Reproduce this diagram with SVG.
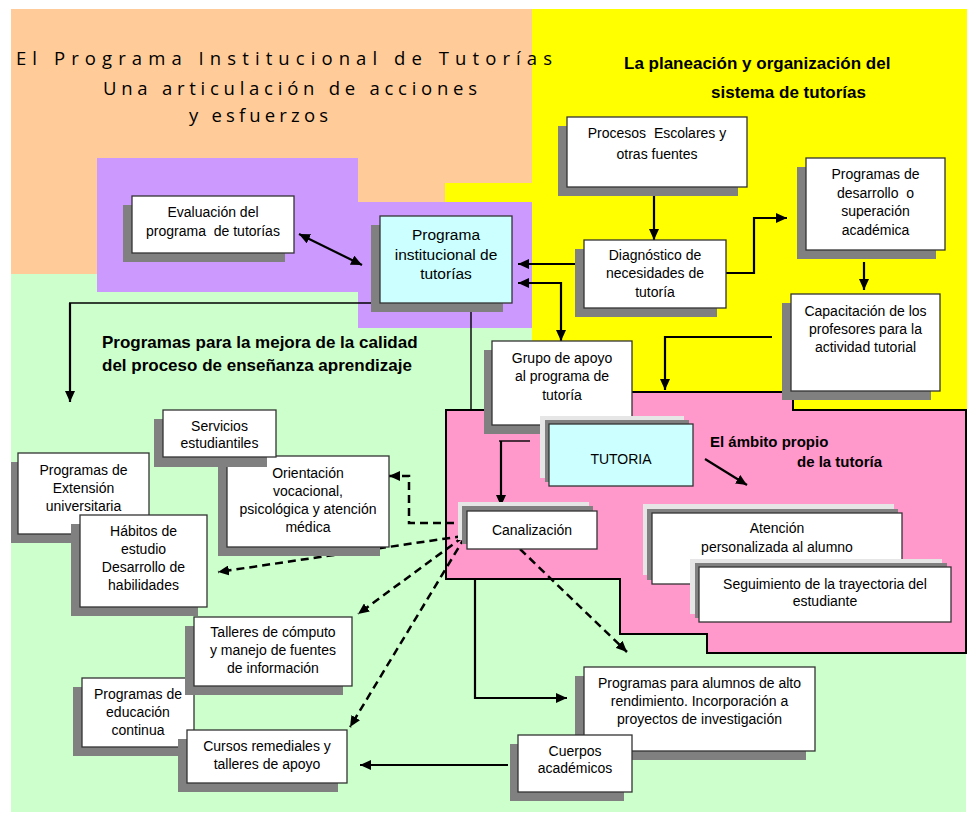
<svg xmlns="http://www.w3.org/2000/svg" width="967" height="813" viewBox="0 0 967 813">
<style>
.sh{fill:#808080}
.lg{fill:#E6E6E6}
.bx{fill:#FFFFFF;stroke:#333;stroke-width:1.3}
.cy{fill:#CCFFFF;stroke:#333;stroke-width:1.3}
.t{font-family:"Liberation Sans",Arial,sans-serif;font-size:14px;text-anchor:middle;fill:#000}
.big{font-size:15.5px}
.tb{font-family:"Liberation Sans",Arial,sans-serif;font-weight:bold;fill:#000}
.h17{font-size:17px}
.h15{font-size:15px}
.ti{font-family:"Open Sans","Liberation Sans",sans-serif;font-size:18.5px;fill:#000}
.ln{fill:none;stroke:#000;stroke-width:2.2}
.thin{fill:none;stroke:#000;stroke-width:1.4}
.ds{fill:none;stroke:#000;stroke-width:2.5;stroke-dasharray:8 5}
</style>
<defs>
<marker id="ar" markerWidth="11" markerHeight="10" refX="11" refY="5" orient="auto-start-reverse" markerUnits="userSpaceOnUse">
<path d="M0,0 L11,5 L0,10 z" fill="#000"/>
</marker>
</defs>

<g id="backgrounds">
<rect x="11" y="274" width="955" height="538" fill="#CCFFCC"/>
<rect x="11" y="9" width="521" height="265" fill="#FFCC99"/>
<rect x="532" y="9" width="435" height="402" fill="#FFFF00"/>
<rect x="445" y="183" width="87" height="19" fill="#FFFF00"/>
<polygon points="97,158 358,158 358,202 532,202 532,328 358,328 358,292 97,292" fill="#CC99FF"/>
<polygon points="446,410 560,410 560,392 793,392 793,410 966,410 966,653 707,653 707,634 620,634 620,579 446,579" fill="#FF99CC" stroke="#000" stroke-width="2"/>
</g>

<g id="titles">
<text class="ti" x="16" y="65" textLength="536" lengthAdjust="spacing">El Programa Institucional de Tutorías</text>
<text class="ti" x="103" y="95" textLength="374" lengthAdjust="spacing">Una articulación de acciones</text>
<text class="ti" x="189" y="122" textLength="139" lengthAdjust="spacing">y esfuerzos</text>
<text class="tb h17" x="624" y="69">La planeación y organización del</text>
<text class="tb h17" x="711" y="98">sistema de tutorías</text>
<text class="tb h17" x="102" y="348">Programas para la mejora de la calidad</text>
<text class="tb h17" x="102" y="371">del proceso de enseñanza aprendizaje</text>
<text class="tb h15" x="710" y="447">El ámbito propio</text>
<text class="tb h15" x="797" y="467">de la tutoría</text>
</g>

<g id="connectors">
<path class="ln" d="M299,234 L362,265" marker-start="url(#ar)" marker-end="url(#ar)"/>
<path class="ln" d="M583,264 H518" marker-end="url(#ar)"/>
<path class="ln" d="M518,283 H561 V341" marker-start="url(#ar)" marker-end="url(#ar)"/>
<path class="ln" d="M654,196 V240" marker-end="url(#ar)"/>
<path class="ln" d="M726,273 H754 V218 H787" marker-end="url(#ar)"/>
<path class="ln" d="M864,262 V290" marker-end="url(#ar)"/>
<path class="ln" d="M772,337 H665 V390" marker-end="url(#ar)"/>
<path class="thin" d="M375,303 H69"/>
<path class="ln" d="M70,303 V402" marker-end="url(#ar)"/>
<path class="thin" d="M471,303 V410"/>
<path class="thin" d="M499,441 H530"/>
<path class="ln" d="M501,441 V506" marker-end="url(#ar)"/>
<path class="ln" d="M705,459 L747,485" marker-end="url(#ar)"/>
<path class="ds" d="M467,523 H409 V476 H389" marker-end="url(#ar)"/>
<path class="ds" d="M463,536 L218,572" marker-end="url(#ar)"/>
<path class="ds" d="M463,537 L358,614" marker-end="url(#ar)"/>
<path class="ds" d="M465,537 L350,727" marker-end="url(#ar)"/>
<path class="ds" d="M520,549 L627,652" marker-end="url(#ar)"/>
<path class="ln" d="M475,579 V698 H567" marker-end="url(#ar)"/>
<path class="ln" d="M508,765 H360" marker-end="url(#ar)"/>
</g>

<g id="evaluacion">
<rect class="sh" x="123" y="205" width="162" height="57"/>
<rect class="bx" x="132" y="196" width="162" height="57"/>
<text class="t" x="213" y="217">Evaluación del</text>
<text class="t" x="213" y="236" xml:space="preserve">programa  de tutorías</text>
</g>

<g id="programa-institucional">
<rect class="sh" x="371" y="225" width="132" height="87"/>
<rect class="cy" x="380" y="216" width="132" height="87"/>
<text class="t big" x="446" y="240">Programa</text>
<text class="t big" x="446" y="260">institucional de</text>
<text class="t big" x="446" y="279">tutorías</text>
</g>

<g id="procesos">
<rect class="sh" x="558" y="126" width="180" height="70"/>
<rect class="bx" x="567" y="117" width="180" height="70"/>
<text class="t" x="657" y="138" xml:space="preserve">Procesos  Escolares y</text>
<text class="t" x="657" y="159">otras fuentes</text>
</g>

<g id="diagnostico">
<rect class="sh" x="575" y="249" width="142" height="68"/>
<rect class="bx" x="584" y="240" width="142" height="68"/>
<text class="t" x="655" y="260">Diagnóstico de</text>
<text class="t" x="655" y="278">necesidades de</text>
<text class="t" x="655" y="297">tutoría</text>
</g>

<g id="programas-desarrollo">
<rect class="sh" x="797" y="167" width="139" height="92"/>
<rect class="bx" x="806" y="158" width="139" height="92"/>
<text class="t" x="875.5" y="179">Programas de</text>
<text class="t" x="875.5" y="197.5" xml:space="preserve">desarrollo  o</text>
<text class="t" x="875.5" y="216">superación</text>
<text class="t" x="875.5" y="234.5">académica</text>
</g>

<g id="capacitacion">
<rect class="sh" x="782" y="303" width="149" height="97"/>
<rect class="bx" x="791" y="294" width="149" height="97"/>
<text class="t" x="865.5" y="316">Capacitación de los</text>
<text class="t" x="865.5" y="334">profesores para la</text>
<text class="t" x="865.5" y="352">actividad tutorial</text>
</g>

<g id="grupo-apoyo">
<rect class="sh" x="484" y="350" width="140" height="84"/>
<rect class="bx" x="492" y="341" width="140" height="84"/>
<text class="t" x="562" y="363">Grupo de apoyo</text>
<text class="t" x="562" y="381">al programa de</text>
<text class="t" x="562" y="400">tutoría</text>
</g>

<g id="tutoria">
<rect class="lg" x="540" y="416" width="144" height="62"/>
<rect class="sh" x="545" y="420" width="144" height="62"/>
<rect class="cy" x="549" y="424" width="144" height="62"/>
<text class="t" x="621" y="464">TUTORIA</text>
</g>

<g id="canalizacion">
<rect class="lg" x="458" y="502" width="131" height="38"/>
<rect class="sh" x="462" y="506" width="131" height="38"/>
<rect class="bx" x="467" y="511" width="130" height="38"/>
<text class="t" x="532" y="535">Canalización</text>
</g>

<g id="atencion">
<rect class="lg" x="643" y="504" width="251" height="71"/>
<rect class="sh" x="647" y="509" width="251" height="71"/>
<rect class="bx" x="652" y="513" width="250" height="71"/>
<text class="t" x="777" y="533">Atención</text>
<text class="t" x="777" y="552">personalizada al alumno</text>
</g>

<g id="seguimiento">
<rect class="lg" x="690" y="559" width="252" height="55"/>
<rect class="sh" x="695" y="563" width="252" height="55"/>
<rect class="bx" x="699" y="567" width="252" height="55"/>
<text class="t" x="825" y="589">Seguimiento de la trayectoria del</text>
<text class="t" x="825" y="606">estudiante</text>
</g>

<g id="orientacion">
<rect class="sh" x="218" y="465" width="162" height="91"/>
<rect class="bx" x="227" y="456" width="162" height="91"/>
<text class="t" x="308" y="478">Orientación</text>
<text class="t" x="308" y="496">vocacional,</text>
<text class="t" x="308" y="514">psicológica y atención</text>
<text class="t" x="308" y="532">médica</text>
</g>

<g id="servicios">
<rect class="sh" x="154" y="419" width="113" height="48"/>
<rect class="bx" x="163" y="410" width="113" height="47"/>
<text class="t" x="219.5" y="431">Servicios</text>
<text class="t" x="219.5" y="448">estudiantiles</text>
</g>

<g id="extension">
<rect class="sh" x="11" y="462" width="129" height="81"/>
<rect class="bx" x="18" y="453" width="131" height="81"/>
<text class="t" x="83.5" y="475">Programas de</text>
<text class="t" x="83.5" y="493">Extensión</text>
<text class="t" x="83.5" y="511">universitaria</text>
</g>

<g id="habitos">
<rect class="sh" x="71" y="524" width="127" height="92"/>
<rect class="bx" x="80" y="515" width="127" height="92"/>
<text class="t" x="143.5" y="536">Hábitos de</text>
<text class="t" x="143.5" y="554">estudio</text>
<text class="t" x="143.5" y="572">Desarrollo de</text>
<text class="t" x="143.5" y="590">habilidades</text>
</g>

<g id="educacion-continua">
<rect class="sh" x="73" y="687" width="112" height="69"/>
<rect class="bx" x="82" y="678" width="112" height="69"/>
<text class="t" x="138" y="699">Programas de</text>
<text class="t" x="138" y="717">educación</text>
<text class="t" x="138" y="735">continua</text>
</g>

<g id="talleres">
<rect class="sh" x="185" y="626" width="158" height="69"/>
<rect class="bx" x="194" y="617" width="158" height="69"/>
<text class="t" x="273" y="637">Talleres de cómputo</text>
<text class="t" x="273" y="655">y manejo de fuentes</text>
<text class="t" x="273" y="673">de información</text>
</g>

<g id="cursos">
<rect class="sh" x="178" y="739" width="160" height="53"/>
<rect class="bx" x="187" y="730" width="160" height="53"/>
<text class="t" x="267" y="751">Cursos remediales y</text>
<text class="t" x="267" y="769">talleres de apoyo</text>
</g>

<g id="alto-rendimiento">
<rect class="sh" x="575" y="676" width="231" height="84"/>
<rect class="bx" x="584" y="667" width="231" height="84"/>
<text class="t" x="699.5" y="688">Programas para alumnos de alto</text>
<text class="t" x="699.5" y="706">rendimiento. Incorporación a</text>
<text class="t" x="699.5" y="724">proyectos de investigación</text>
</g>

<g id="cuerpos">
<rect class="sh" x="510" y="744" width="114" height="57"/>
<rect class="bx" x="518" y="735" width="114" height="57"/>
<text class="t" x="575" y="756">Cuerpos</text>
<text class="t" x="575" y="773">académicos</text>
</g>
</svg>
